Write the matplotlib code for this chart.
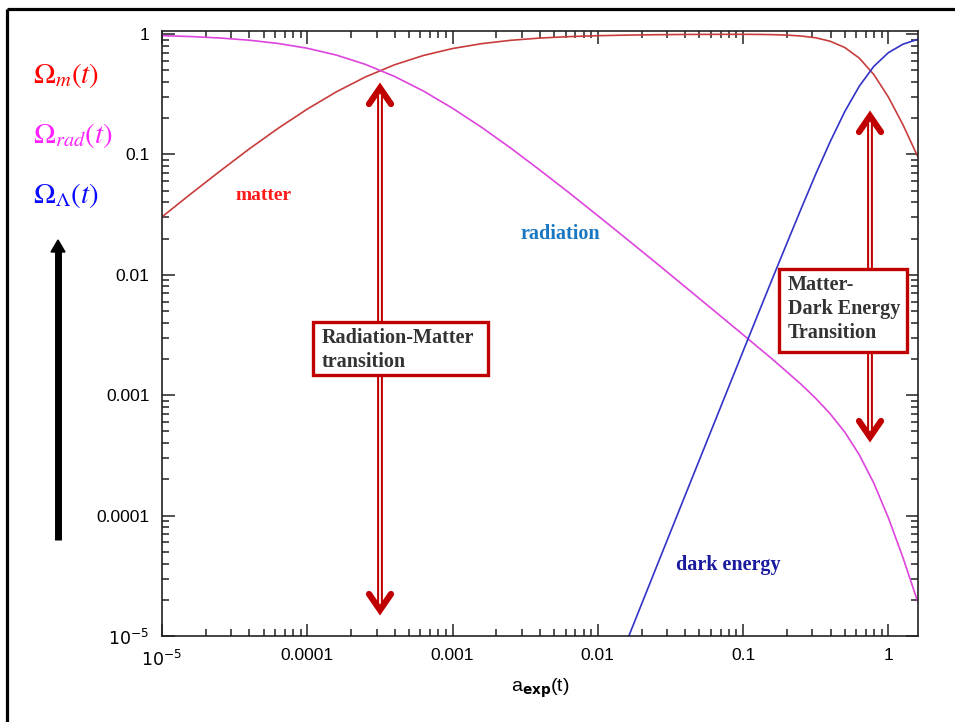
import numpy as np
import matplotlib
matplotlib.use('Agg')
import matplotlib.pyplot as plt
from matplotlib.patches import Rectangle, Polygon
from matplotlib.ticker import FixedLocator, NullFormatter

# values (log10 of scale factor, then density fractions)
log_a = [-5.0, -4.8, -4.6, -4.4, -4.2, -4.0, -3.8, -3.6, -3.4, -3.2,
         -3.0, -2.8, -2.6, -2.4, -2.2, -2.0, -1.8, -1.6, -1.4, -1.2,
         -1.0, -0.9, -0.8, -0.7, -0.6, -0.5, -0.4, -0.3, -0.2, -0.1,
         0.0, 0.1, 0.2]
omega_matter = [0.0303, 0.0472, 0.0728, 0.111, 0.165, 0.238, 0.331, 0.440, 0.555, 0.664,
                0.758, 0.832, 0.887, 0.926, 0.952, 0.969, 0.980, 0.987, 0.992, 0.994,
                0.9945, 0.993, 0.989, 0.980, 0.963, 0.931, 0.871, 0.773, 0.631, 0.461,
                0.300, 0.177, 0.0973]
omega_rad = [0.970, 0.953, 0.927, 0.889, 0.835, 0.762, 0.669, 0.560, 0.445, 0.336,
             0.242, 0.168, 0.113, 0.0743, 0.0483, 0.0310, 0.0198, 0.0126, 0.00797, 0.00504,
             0.00318, 0.00252, 0.0020, 0.00157, 0.00123, 9.42e-4, 7.0e-4, 4.94e-4, 3.2e-4, 1.86e-4,
             9.6e-5, 4.5e-5, 1.96e-5]
omega_lambda = [None] * 15 + [2.26e-6, 9.1e-6, 3.65e-5, 1.46e-4, 5.82e-4,
                              2.32e-3, 4.62e-3, 9.18e-3, 0.0181, 0.0355, 0.0686, 0.128, 0.227, 0.369, 0.539,
                              0.700, 0.823, 0.903]

x_ticks = [1e-5, 1e-4, 1e-3, 1e-2, 1e-1, 1]
x_labels = ['$10^{-5}$', '0.0001', '0.001', '0.01', '0.1', '1']
y_ticks = [1e-5, 1e-4, 1e-3, 1e-2, 1e-1, 1]
y_labels = ['$10^{-5}$', '0.0001', '0.001', '0.01', '0.1', '1']

a = 10 ** np.array(log_a)
lam = np.array([np.nan if v is None else v for v in omega_lambda])

W, H = 955, 722
fig = plt.figure(figsize=(W / 100, H / 100), dpi=100)
ax = fig.add_axes([162 / W, 1 - 636 / H, (918 - 162) / W, (636 - 31) / H])

ax.loglog(a, omega_matter, color='#c83c3c', lw=1.2)
ax.loglog(a, omega_rad, color='#dd44dd', lw=1.2)
ax.loglog(a, lam, color='#3232c8', lw=1.2)
ax.set_xlim(1e-5, 1.6)
ax.set_ylim(1e-5, 1.06)

ax.xaxis.set_major_locator(FixedLocator(x_ticks))
ax.yaxis.set_major_locator(FixedLocator(y_ticks))
ax.set_xticklabels(x_labels, fontfamily='Liberation Sans', fontsize=12.5)
ax.set_yticklabels(y_labels, fontfamily='Liberation Sans', fontsize=12.5)
ax.xaxis.set_minor_formatter(NullFormatter())
ax.yaxis.set_minor_formatter(NullFormatter())
ax.tick_params(which='both', direction='in', top=True, right=True, width=1.1, color='#222222')
ax.tick_params(which='major', length=9, pad=9)
ax.tick_params(which='minor', length=5)
for sp in ax.spines.values():
    sp.set_linewidth(1.2)
    sp.set_color('#222222')
ax.set_xlabel(r'a$_{\mathbf{exp}}$(t)', fontfamily='Liberation Sans', fontsize=14, labelpad=6)

# overlay in pixel coordinates for decorations
ov = fig.add_axes([0, 0, 1, 1], zorder=5)
ov.set_xlim(0, W)
ov.set_ylim(H, 0)
ov.axis('off')
ov.patch.set_alpha(0)

serif = 'Liberation Serif'
ov.text(264, 196, 'matter', color='#ff1a1a', fontsize=14, fontweight='bold',
        family=serif, ha='center', va='center')
ov.text(560, 234, 'radiation', color='#1a78c2', fontsize=14.5, fontweight='bold',
        family=serif, ha='center', va='center')
ov.text(728, 565, 'dark energy', color='#1a1a9e', fontsize=14.5, fontweight='bold',
        family=serif, ha='center', va='center')

# outer frame (top and left edges visible)
ov.plot([7, 7], [9, H + 5], color='black', lw=2.3, solid_capstyle='butt')
ov.plot([7, W + 5], [9, 9], color='black', lw=2.3, solid_capstyle='butt')

dark_red = '#c00000'


def double_arrow(x, y_top, y_bot):
    ov.plot([x, x], [y_top + 6, y_bot - 6], color=dark_red, lw=4.2, solid_capstyle='butt')
    ov.plot([x, x], [y_top + 6, y_bot - 6], color='white', lw=1.3, solid_capstyle='butt')
    ov.plot([x - 11, x, x + 11], [y_top + 19, y_top + 3, y_top + 19], color=dark_red,
            lw=4.5, solid_joinstyle='miter', solid_capstyle='round')
    ov.plot([x - 11, x, x + 11], [y_bot - 19, y_bot - 3, y_bot - 19], color=dark_red,
            lw=4.5, solid_joinstyle='miter', solid_capstyle='round')


double_arrow(380, 85, 613)
double_arrow(870, 113, 440)

ov.add_patch(Rectangle((313, 322), 175, 53, facecolor='white', edgecolor=dark_red, lw=2.4,
                       zorder=3))
ov.text(322, 350, 'Radiation-Matter\ntransition', color='#333333', fontsize=14.5, fontweight='bold',
        family=serif, ha='left', va='center', linespacing=1.25, zorder=4)
ov.add_patch(Rectangle((779, 269), 128, 83, facecolor='white', edgecolor=dark_red, lw=2.4,
                       zorder=3))
ov.text(788, 309, 'Matter-\nDark Energy\nTransition', color='#333333', fontsize=14.5,
        fontweight='bold', family=serif, ha='left', va='center', linespacing=1.25, zorder=4)

# black vertical arrow on the left
ov.plot([58, 58], [540, 250], color='black', lw=5, solid_capstyle='butt')
ov.add_patch(Polygon([[51, 252], [58, 240], [65, 252]], closed=True, color='black'))

# legend-like labels
ov.text(33, 76, r'$\Omega_m(t)$', color='#ff0000', fontsize=21, math_fontfamily='stix',
        ha='left', va='center')
ov.text(33, 135, r'$\Omega_{rad}(t)$', color='#ff22ff', fontsize=21, math_fontfamily='stix',
        ha='left', va='center')
ov.text(33, 196, r'$\Omega_\Lambda(t)$', color='#0a0aff', fontsize=21, math_fontfamily='stix',
        ha='left', va='center')

fig.savefig('out.png', dpi=100)
